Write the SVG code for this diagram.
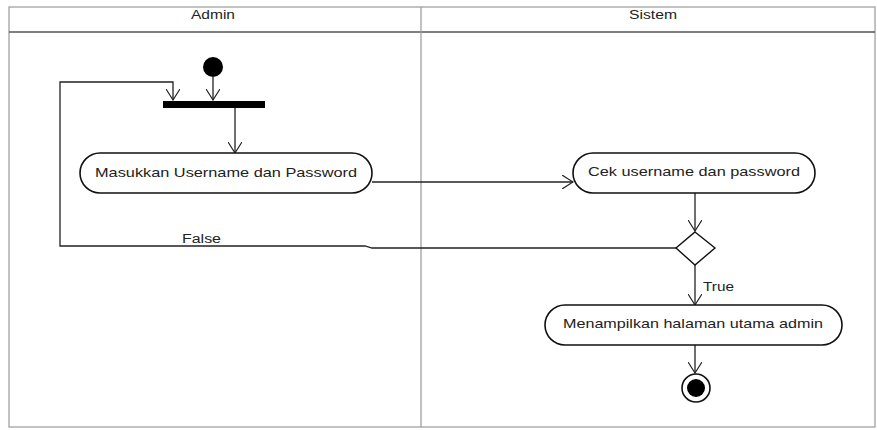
<svg xmlns="http://www.w3.org/2000/svg" width="877" height="430" viewBox="0 0 877 430">
<style>
text{font-family:"Liberation Sans",Arial,sans-serif;fill:#222;}
.lane{fill:none;stroke:#999;stroke-width:1.2}
.sep{stroke:#555;stroke-width:1.4}
.hdr{font-size:12px;text-anchor:middle}
.act{fill:#fff;stroke:#111;stroke-width:1.6}
.lbl{font-size:13.5px;text-anchor:middle}
.edge{fill:none;stroke:#222;stroke-width:1.3}
.guard{font-size:12.5px}
</style>
<defs>
<marker id="arr" viewBox="0 0 12 14" refX="11" refY="7" markerWidth="12" markerHeight="14" markerUnits="userSpaceOnUse" orient="auto">
<path d="M0,0 L11,7 L0,14" fill="none" stroke="#222" stroke-width="1.2"/>
</marker>
</defs>
<rect width="877" height="430" fill="#fff"/>
<g id="swimlanes">
<rect class="lane" x="9" y="7" width="866" height="420"/>
<line class="sep" x1="9" y1="32" x2="875" y2="32"/>
<line class="lane" x1="421" y1="7" x2="421" y2="427"/>
<text class="hdr" x="213" y="19" textLength="44" lengthAdjust="spacingAndGlyphs">Admin</text>
<text class="hdr" x="653" y="19" textLength="48" lengthAdjust="spacingAndGlyphs">Sistem</text>
</g>
<g id="connectors">
<line class="edge" x1="213" y1="77" x2="213" y2="100" marker-end="url(#arr)"/>
<polyline class="edge" points="677,248 372,248 365,246 60,246 60,82 173,82 173,100" marker-end="url(#arr)"/>
<line class="edge" x1="235" y1="107" x2="235" y2="153" marker-end="url(#arr)"/>
<line class="edge" x1="372" y1="182" x2="573" y2="182" marker-end="url(#arr)"/>
<line class="edge" x1="695" y1="193" x2="695" y2="231" marker-end="url(#arr)"/>
<line class="edge" x1="695" y1="265" x2="695" y2="305" marker-end="url(#arr)"/>
<line class="edge" x1="695" y1="345" x2="695" y2="373" marker-end="url(#arr)"/>
<text class="guard" x="182" y="243" textLength="39" lengthAdjust="spacingAndGlyphs">False</text>
<text class="guard" x="703" y="291" textLength="31" lengthAdjust="spacingAndGlyphs">True</text>
</g>
<g id="start">
<circle cx="213" cy="67" r="10" fill="#000"/>
</g>
<g id="fork">
<rect x="163" y="101" width="102" height="7" fill="#000"/>
</g>
<g id="masukkan">
<rect class="act" x="80" y="153" width="292" height="40" rx="20" ry="20"/>
<text class="lbl" x="226" y="177" textLength="262" lengthAdjust="spacingAndGlyphs">Masukkan Username dan Password</text>
</g>
<g id="cek">
<rect class="act" x="573" y="153" width="242" height="40" rx="20" ry="20"/>
<text class="lbl" x="694" y="176" textLength="212" lengthAdjust="spacingAndGlyphs">Cek username dan password</text>
</g>
<g id="decision">
<polygon points="695,232 715,248 695,265 676,248" fill="#fff" stroke="#111" stroke-width="1.4"/>
</g>
<g id="menampilkan">
<rect class="act" x="545" y="305" width="297" height="40" rx="20" ry="20"/>
<text class="lbl" x="693" y="328" textLength="260" lengthAdjust="spacingAndGlyphs">Menampilkan halaman utama admin</text>
</g>
<g id="end">
<circle cx="696" cy="388" r="14" fill="#fff" stroke="#111" stroke-width="1.6"/>
<circle cx="696" cy="388" r="9" fill="#000"/>
</g>
</svg>
